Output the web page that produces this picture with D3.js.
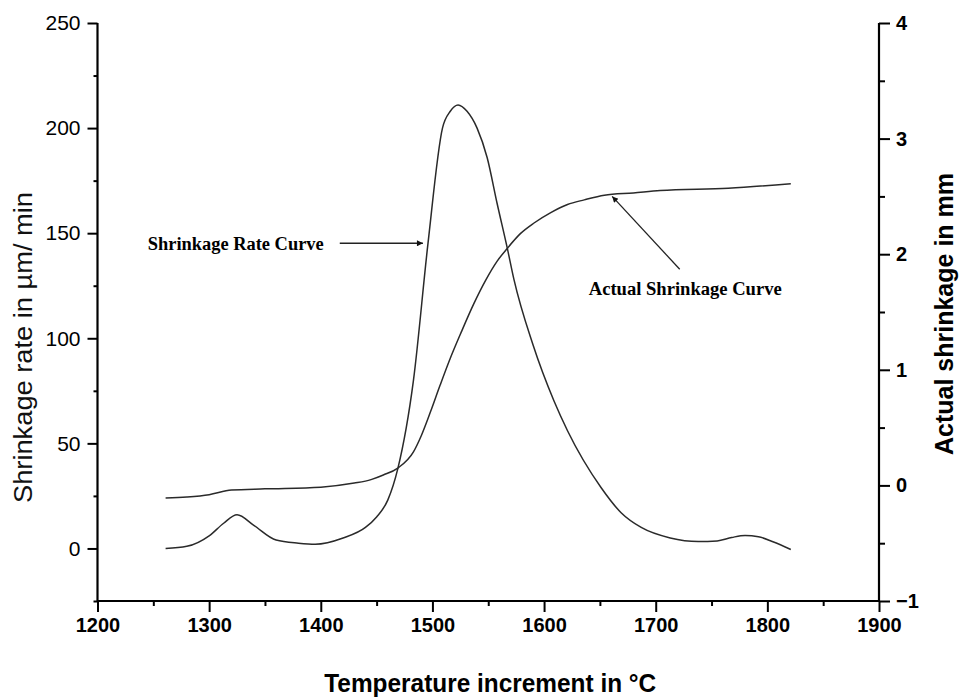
<!DOCTYPE html>
<html>
<head>
<meta charset="utf-8">
<script src="https://cdn.jsdelivr.net/npm/d3@7"></script>
<style>
  body { margin: 0; background: #fff; }
  svg { display: block; }
</style>
</head>
<body>
<div id="chart"></div>
<script>
// shrinkage rate curve (left axis, µm/min)
const rateTemp   = [1261, 1280, 1300, 1313, 1325, 1340, 1360, 1380, 1395, 1420, 1440, 1450, 1460, 1469, 1483, 1496, 1509, 1516, 1523, 1531, 1540, 1549, 1558, 1567, 1573, 1590, 1609, 1621, 1651, 1669, 1687, 1713, 1738, 1755, 1768, 1780, 1792, 1805, 1821];
const rateValues = [0, 1, 6, 12, 16, 11, 4, 2.5, 2, 5, 10, 15, 23, 38, 80, 145, 200, 208, 211, 208, 200, 186, 164, 143, 128, 97, 70, 56, 29, 17, 10, 5, 3.3, 3.6, 5.2, 6.2, 5.6, 3.2, -0.5];

// actual shrinkage curve (right axis, mm)
const shrinkTemp   = [1261, 1280, 1300, 1320, 1350, 1400, 1430, 1445, 1456, 1469, 1483, 1490, 1498, 1507, 1516, 1526, 1537, 1548, 1558, 1567, 1579, 1591, 1606, 1621, 1636, 1654, 1680, 1704, 1765, 1821];
const shrinkValues = [-0.11, -0.10, -0.08, -0.04, -0.03, -0.015, 0.02, 0.05, 0.09, 0.15, 0.29, 0.43, 0.63, 0.87, 1.10, 1.33, 1.57, 1.78, 1.94, 2.05, 2.18, 2.27, 2.36, 2.43, 2.47, 2.51, 2.53, 2.55, 2.57, 2.61];

const xTicks      = [1200, 1300, 1400, 1500, 1600, 1700, 1800, 1900];
const xMinor      = [1250, 1350, 1450, 1550, 1650, 1750, 1850];
const leftTicks   = [0, 50, 100, 150, 200, 250];
const leftMinor   = [-25, 25, 75, 125, 175, 225];
const rightTicks  = [-1, 0, 1, 2, 3, 4];
const rightMinor  = [-0.5, 0.5, 1.5, 2.5, 3.5];

const xLabel     = 'Temperature increment in °C';
const leftLabel  = 'Shrinkage rate in µm/ min';
const rightLabel = 'Actual shrinkage in mm';

// annotations in data units: [temperature, value]
const rateNote   = { text: 'Shrinkage Rate Curve', at: [1245, 142], from: [1417, 145.2], to: [1491.5, 145.2] };
const shrinkNote = { text: 'Actual Shrinkage Curve', at: [1640, 1.65], from: [1721.5, 1.87], to: [1661, 2.5] };

const W = 959, H = 697;
const plotL = 97.5, plotR = 879, plotT = 23, plotB = 601;

const svg = d3.select('#chart').append('svg')
  .attr('width', W).attr('height', H);

svg.append('defs').append('marker')
  .attr('id', 'head')
  .attr('viewBox', '0 0 10 10')
  .attr('refX', 10).attr('refY', 5)
  .attr('markerWidth', 9).attr('markerHeight', 6)
  .attr('markerUnits', 'userSpaceOnUse')
  .attr('orient', 'auto')
  .append('path').attr('d', 'M0,0L10,5L0,10Z').attr('fill', '#111');

const x = d3.scaleLinear().domain([1200, 1900]).range([plotL, plotR]);
const yL = d3.scaleLinear().domain([-25, 250]).range([plotB, plotT]);
const yR = d3.scaleLinear().domain([-1, 4]).range([plotB, plotT]);

// curves
const rateData = rateTemp.map((t, i) => [t, rateValues[i]]);
const shrinkData = shrinkTemp.map((t, i) => [t, shrinkValues[i]]);

svg.append('path')
  .datum(rateData)
  .attr('fill', 'none').attr('stroke', '#2a2a2a').attr('stroke-width', 1.5)
  .attr('d', d3.line().x(d => x(d[0])).y(d => yL(d[1])).curve(d3.curveMonotoneX));

svg.append('path')
  .datum(shrinkData)
  .attr('fill', 'none').attr('stroke', '#2a2a2a').attr('stroke-width', 1.5)
  .attr('d', d3.line().x(d => x(d[0])).y(d => yR(d[1])).curve(d3.curveMonotoneX));

// axes
function styleAxis(g) {
  g.select('.domain').remove();
  g.selectAll('line').attr('stroke', '#000').attr('stroke-width', 2);
}

svg.append('g').attr('transform', `translate(0,${plotB})`)
  .call(d3.axisBottom(x).tickValues(xMinor).tickSize(5).tickFormat(''))
  .call(styleAxis);
const xMajG = svg.append('g').attr('transform', `translate(0,${plotB})`)
  .call(d3.axisBottom(x).tickValues(xTicks).tickSize(11).tickPadding(6).tickFormat(d3.format('d')))
  .call(styleAxis);
xMajG.selectAll('text')
  .attr('font-family', 'Liberation Sans, Arial, sans-serif')
  .attr('font-size', 20).attr('font-weight', 'bold').attr('fill', '#000');

svg.append('g').attr('transform', `translate(${plotL},0)`)
  .call(d3.axisLeft(yL).tickValues(leftMinor).tickSize(4).tickFormat(''))
  .call(styleAxis);
const yLG = svg.append('g').attr('transform', `translate(${plotL},0)`)
  .call(d3.axisLeft(yL).tickValues(leftTicks).tickSize(10).tickPadding(7))
  .call(styleAxis);
yLG.selectAll('text')
  .attr('font-family', 'Liberation Sans, Arial, sans-serif')
  .attr('font-size', 21).attr('fill', '#000');

svg.append('g').attr('transform', `translate(${plotR},0)`)
  .call(d3.axisRight(yR).tickValues(rightMinor).tickSize(6).tickFormat(''))
  .call(styleAxis);
const yRG = svg.append('g').attr('transform', `translate(${plotR},0)`)
  .call(d3.axisRight(yR).tickValues(rightTicks).tickSize(11).tickPadding(6).tickFormat(d3.format('d')))
  .call(styleAxis);
yRG.selectAll('text')
  .attr('font-family', 'Liberation Sans, Arial, sans-serif')
  .attr('font-size', 20).attr('font-weight', 'bold').attr('fill', '#000');

// axis lines
svg.append('line').attr('x1', plotL).attr('x2', plotR).attr('y1', plotB).attr('y2', plotB)
  .attr('stroke', '#000').attr('stroke-width', 2.2);
svg.append('line').attr('x1', plotL).attr('x2', plotL).attr('y1', plotT).attr('y2', plotB)
  .attr('stroke', '#000').attr('stroke-width', 2.2);
svg.append('line').attr('x1', plotR).attr('x2', plotR).attr('y1', plotT).attr('y2', plotB)
  .attr('stroke', '#000').attr('stroke-width', 2.2);

// axis titles
svg.append('text')
  .attr('x', (plotL + plotR) / 2 + 2).attr('y', 692)
  .attr('text-anchor', 'middle')
  .attr('font-family', 'Liberation Sans, Arial, sans-serif')
  .attr('font-size', 25).attr('font-weight', 'bold')
  .attr('textLength', 332).attr('lengthAdjust', 'spacingAndGlyphs')
  .text(xLabel);

svg.append('text')
  .attr('transform', `translate(32,${(192 + 503) / 2}) rotate(-90)`)
  .attr('text-anchor', 'middle')
  .attr('font-family', 'Liberation Sans, Arial, sans-serif')
  .attr('font-size', 26).attr('fill', '#111')
  .attr('textLength', 311).attr('lengthAdjust', 'spacingAndGlyphs')
  .text(leftLabel);

svg.append('text')
  .attr('transform', `translate(953,${(173 + 455) / 2}) rotate(-90)`)
  .attr('text-anchor', 'middle')
  .attr('font-family', 'Liberation Sans, Arial, sans-serif')
  .attr('font-size', 25).attr('font-weight', 'bold')
  .attr('textLength', 282).attr('lengthAdjust', 'spacingAndGlyphs')
  .text(rightLabel);

// annotations
function note(n, ys, len) {
  svg.append('text')
    .attr('x', x(n.at[0])).attr('y', ys(n.at[1]))
    .attr('font-family', 'Liberation Serif, Times New Roman, serif')
    .attr('font-size', 18).attr('font-weight', 'bold')
    .attr('textLength', len).attr('lengthAdjust', 'spacingAndGlyphs')
    .text(n.text);
  svg.append('line')
    .attr('x1', x(n.from[0])).attr('y1', ys(n.from[1]))
    .attr('x2', x(n.to[0])).attr('y2', ys(n.to[1]))
    .attr('stroke', '#222').attr('stroke-width', 1.3)
    .attr('marker-end', 'url(#head)');
}
note(rateNote, yL, 176);
note(shrinkNote, yR, 193);
</script>
</body>
</html>
